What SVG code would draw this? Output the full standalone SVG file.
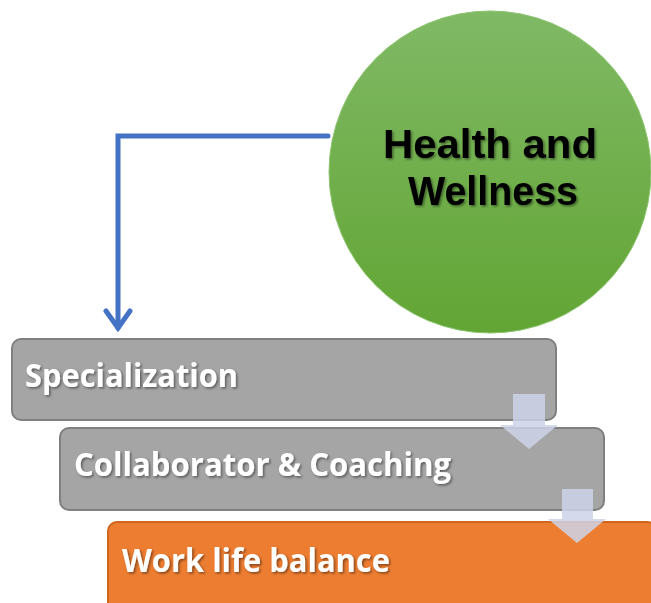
<svg xmlns="http://www.w3.org/2000/svg" width="651" height="603" viewBox="0 0 651 603">
<defs>
<linearGradient id="g" x1="0" y1="0" x2="0" y2="1">
<stop offset="0" stop-color="#80b965"/>
<stop offset="1" stop-color="#62a534"/>
</linearGradient>
<filter id="sh" x="-10%" y="-20%" width="120%" height="150%">
<feDropShadow dx="1.5" dy="1.5" stdDeviation="1" flood-color="#000" flood-opacity="0.45"/>
</filter>
</defs>
<style>
.box{fill:#a5a5a5;stroke:#7f7f7f;stroke-width:2}
.obox{fill:#ed7d31;stroke:#d0651c;stroke-width:2}
.lbl{font-family:"Open Sans","Liberation Sans",sans-serif;font-weight:bold;font-size:32px;fill:#fff}
.hw{font-family:"Liberation Sans",Arial,sans-serif;font-weight:bold;font-size:40px;fill:#000;text-anchor:middle}
.da{fill:#cdd4e8;fill-opacity:0.85}
.conn{fill:none;stroke:#4472c4;stroke-width:5;stroke-linecap:round;stroke-linejoin:miter}
</style>
<g id="connectors">
<path class="conn" d="M328,136 H118 V328"/>
<path class="conn" d="M106,311 L118,328 L130,311"/>
</g>
<g id="health">
<circle cx="490" cy="172" r="161" fill="url(#g)" stroke="#8cc46f" stroke-width="1"/>
<g filter="url(#sh)">
<text class="hw" x="490" y="158" textLength="214" lengthAdjust="spacingAndGlyphs">Health and</text>
<text class="hw" x="493" y="205" textLength="170" lengthAdjust="spacingAndGlyphs">Wellness</text>
</g>
</g>
<g id="specialization">
<rect class="box" x="12" y="339" width="544" height="81" rx="9"/>
<text class="lbl" x="25" y="387" textLength="213" lengthAdjust="spacingAndGlyphs" filter="url(#sh)">Specialization</text>
</g>
<g id="collaborator">
<rect class="box" x="60" y="428" width="544" height="82" rx="9"/>
<text class="lbl" x="74" y="476" textLength="377" lengthAdjust="spacingAndGlyphs" filter="url(#sh)">Collaborator &amp; Coaching</text>
</g>
<g id="worklife">
<rect class="obox" x="108" y="522" width="548" height="90" rx="9"/>
<text class="lbl" x="122" y="572" textLength="268" lengthAdjust="spacingAndGlyphs" filter="url(#sh)">Work life balance</text>
</g>
<g id="flow-arrows">
<path class="da" d="M513,394 H545 V425 H558 L529,449 L500,425 H513 Z"/>
<path class="da" d="M562,489 H593 V519 H606 L577,543 L548,519 H562 Z"/>
</g>
</svg>
